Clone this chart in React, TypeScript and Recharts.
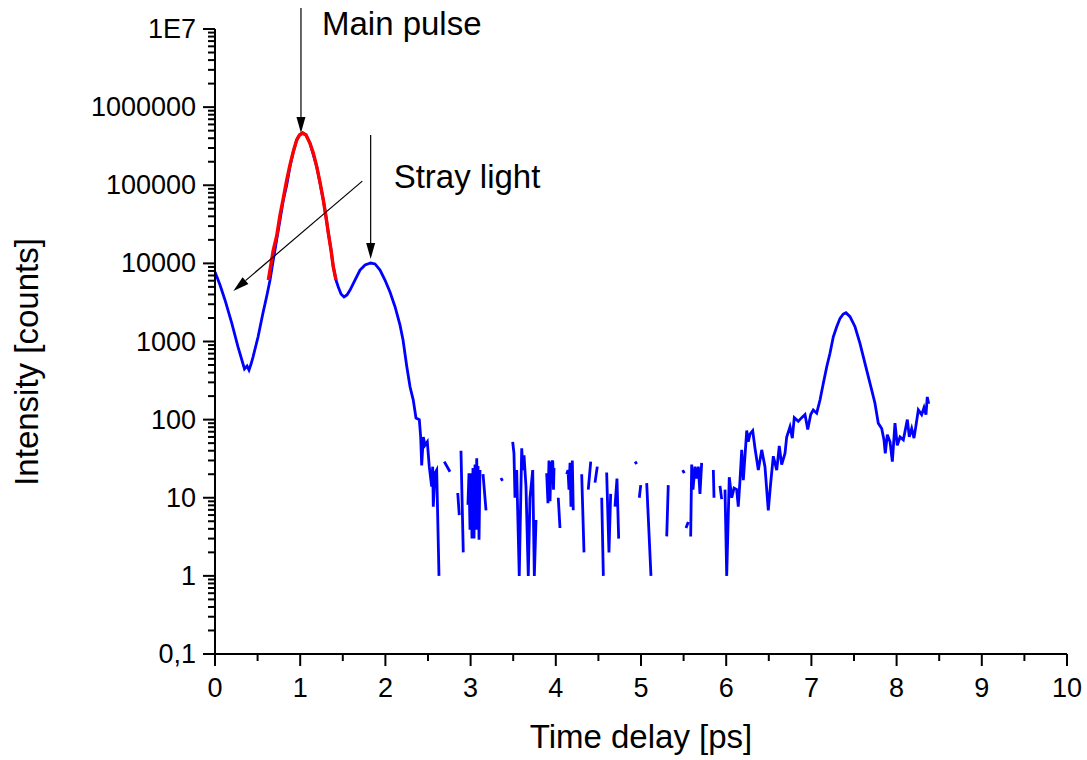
import { LineChart, Line, XAxis, YAxis, ReferenceLine } from 'recharts';

const FONT = '"Liberation Sans", Arial, Helvetica, sans-serif';

// x axis: time delay [ps], majors every 1, minors every 0.5
const xTicks = [0, 0.5, 1, 1.5, 2, 2.5, 3, 3.5, 4, 4.5, 5, 5.5, 6, 6.5, 7, 7.5, 8, 8.5, 9, 9.5, 10];

// y axis: log decades and their labels
const yDecades = [0.1, 1, 10, 100, 1000, 10000, 100000, 1000000, 10000000];
const yDecadeLabels = ['0,1', '1', '10', '100', '1000', '10000', '100000', '1000000', '1E7'];
const yMinorSteps = [2, 3, 4, 5, 6, 7, 8, 9];

// measured trace (blue); null = no counts (gap in the log plot)
const blueT = [
  0, 0.059, 0.117, 0.196, 0.27, 0.329, 0.346, 0.376, 0.399, 0.423,
  0.446, 0.505, 0.563, 0.61, 0.646, 0.684, 0.724, 0.763, 0.802, 0.842,
  0.88, 0.919, 0.959, 0.992, 1.029, 1.068, 1.115, 1.154, 1.194, 1.232,
  1.271, 1.303, 1.33, 1.362, 1.388, 1.42, 1.447, 1.479, 1.514, 1.549,
  1.585, 1.643, 1.702, 1.761, 1.827, 1.878, 1.937, 1.995, 2.054, 2.113,
  2.171, 2.207, 2.25, 2.289, 2.327, 2.359, 2.398, 2.414, 2.426, 2.445,
  2.465, 2.492, 2.515, 2.543, 2.555, 2.562, 2.582, 2.602, 2.629, 2.64,
  2.691, 2.758, 2.77,
  2.849, 2.867, 2.875,
  2.887, 2.914, 2.93,
  2.969, 2.981, 2.993, 3.005, 3.016, 3.028, 3.04, 3.052, 3.063, 3.072, 3.081, 3.087, 3.099, 3.11, 3.12,
  3.146, 3.181, 3.19,
  3.357, 3.374, 3.38,
  3.494, 3.509, 3.521, 3.541, 3.571, 3.6, 3.615, 3.627, 3.65, 3.677, 3.697, 3.729, 3.748, 3.768, 3.78,
  3.893, 3.908, 3.92, 3.932, 3.944, 3.964, 3.973, 3.979, 3.99,
  4.029, 4.049, 4.06,
  4.128, 4.143, 4.155, 4.167, 4.178, 4.194, 4.205, 4.22,
  4.304, 4.331, 4.34,
  4.381, 4.41, 4.42,
  4.46, 4.487, 4.5,
  4.539, 4.558, 4.57,
  4.597, 4.624, 4.644, 4.66,
  4.695, 4.718, 4.738, 4.75,
  4.93, 4.95, 4.96,
  4.98, 4.997, 5.01,
  5.067, 5.117, 5.13,
  5.302, 5.32, 5.33,
  5.489, 5.508, 5.515,
  5.528, 5.555, 5.565,
  5.583, 5.595, 5.61, 5.634, 5.654, 5.673, 5.692, 5.712, 5.72,
  5.849, 5.857, 5.865,
  5.927, 5.947, 5.955,
  5.986, 6.006, 6.036, 6.065, 6.092, 6.123, 6.142, 6.162, 6.182, 6.201,
  6.241, 6.259, 6.279, 6.311, 6.338, 6.377, 6.417, 6.455, 6.494, 6.522,
  6.553, 6.593, 6.623, 6.651, 6.69, 6.71, 6.749, 6.776, 6.799, 6.846,
  6.886, 6.925, 6.957, 6.992, 7.022, 7.062, 7.101, 7.14, 7.18, 7.218,
  7.257, 7.297, 7.336, 7.374, 7.406, 7.453, 7.512, 7.57, 7.609, 7.668,
  7.708, 7.746, 7.785, 7.825, 7.852, 7.867, 7.891, 7.923, 7.95, 7.981,
  8.008, 8.04, 8.079, 8.126, 8.149, 8.177, 8.204, 8.228, 8.255, 8.294,
  8.322, 8.345, 8.36, 8.377,
];

const blueV: (number | null)[] = [
  7760, 5290, 3400, 1730, 851, 515, 445, 486, 431, 515,
  631, 1140, 2320, 3940, 6120, 11000, 20000, 35900, 64700, 100700,
  173000, 267000, 380000, 440000, 467000, 440000, 344000, 244000, 173000, 107000,
  65000, 39200, 24500, 14800, 9090, 6120, 4990, 4050, 3720, 3940,
  4560, 6120, 8220, 9530, 10100, 9830, 8220, 6120, 4300, 2790,
  1630, 1045, 486, 263, 178, 105, 100, 60, 26, 60,
  47, 52, 25, 13.9, 25, 7.7, 20.6, 22.6, 1, null,
  29, 21.5, null,
  11.5, 6, null,
  40, 2, null,
  8.1, 20.6, 3.9, 20.6, 3, 24, 3, 26.6, 3.9, 32, 3.9, 25.5, 2.9, 22.6, null,
  20, 6.9, null,
  17.9, 16.4, null,
  52, 37, 10, 22.6, 1, 43, 22.6, 35, 14, 1, 10, 22.6, 1, 5.2, null,
  20.6, 8.5, 30, 9, 26.6, 30, 12.7, 24, null,
  10, 4.1, null,
  20, 22.6, 12.7, 28, 7.7, 30, 6.9, null,
  20, 2, null,
  12.7, 29, null,
  15.6, 25, null,
  10, 1, null,
  21, 2, 11.2, null,
  7.7, 17.6, 3, null,
  29, 27, null,
  10, 14.5, null,
  15.4, 1, null,
  3.2, 14.5, null,
  22.6, 20.6, null,
  4.1, 4.9, null,
  3.2, 26.6, 12.7, 25, 17.6, 25, 11.2, 28, null,
  22.6, 10, null,
  14.2, 9.6, null,
  12.7, 1, 18.3, 10, 13.3, 12.7, 7.7, 16.8, 41, 16.8,
  72.5, 52, 65, 72, 43, 22.6, 41, 25, 6.9, 15.4,
  34, 22.6, 46, 26.6, 37, 60, 81, 58, 106, 95,
  106, 116, 75, 116, 133, 121, 178, 292, 476, 706,
  1150, 1545, 1980, 2250, 2340, 2080, 1545, 948, 640, 355,
  239, 162, 90, 77, 55, 37, 64, 52, 29, 90,
  47, 60, 55, 100, 60, 77, 58, 85, 133, 116,
  143, 116, 195, 160,
];

// gaussian fit of the main pulse (red)
const redT = [0.626, 0.684, 0.724, 0.763, 0.802, 0.842, 0.88, 0.919, 0.959, 0.992, 1.029, 1.068, 1.115, 1.154, 1.194, 1.232, 1.271, 1.303, 1.33, 1.362, 1.388, 1.42];
const redV = [6120, 14800, 22400, 41600, 68700, 117000, 182000, 270000, 380000, 440000, 467000, 440000, 344000, 259000, 173000, 110000, 65000, 39200, 24500, 14800, 9090, 6120];

const blueData = blueT.map((t, i) => ({ t, v: blueV[i] }));
const redData = redT.map((t, i) => ({ t, v: redV[i] }));

const yTicks: number[] = [];
yDecades.forEach((d, i) => {
  yTicks.push(d);
  if (i < yDecades.length - 1) yMinorSteps.forEach((m) => yTicks.push(d * m));
});

function decadeIndex(v: number) {
  return yDecades.findIndex((d) => Math.abs(d - v) / d < 1e-6);
}

function YTick(props: any) {
  const { x, y, payload } = props;
  const idx = decadeIndex(payload.value);
  const major = idx >= 0;
  return (
    <g>
      <line x1={x - (major ? 12 : 7)} x2={x} y1={y} y2={y} stroke="#000" strokeWidth={2} />
      {major && (
        <text x={x - 19} y={y} textAnchor="end" dominantBaseline="central" fontSize={27} fontFamily={FONT} fill="#000">
          {yDecadeLabels[idx]}
        </text>
      )}
    </g>
  );
}

function XTick(props: any) {
  const { x, y, payload } = props;
  const major = Number.isInteger(payload.value);
  return (
    <g>
      <line x1={x} x2={x} y1={y} y2={y + (major ? 12 : 7)} stroke="#000" strokeWidth={2} />
      {major && (
        <text x={x} y={y + 43} textAnchor="middle" fontSize={27} fontFamily={FONT} fill="#000">
          {payload.value}
        </text>
      )}
    </g>
  );
}

function arrow(text?: string, dx = 0, dy = 0) {
  return (p: any) => {
    const { x1, y1, x2, y2 } = p;
    const ang = Math.atan2(y2 - y1, x2 - x1);
    const L = 16;
    const W = 4.5;
    const bx = x2 - L * Math.cos(ang);
    const by = y2 - L * Math.sin(ang);
    const px = -Math.sin(ang) * W;
    const py = Math.cos(ang) * W;
    return (
      <g>
        <line x1={x1} y1={y1} x2={bx} y2={by} stroke="#000" strokeWidth={1.2} />
        <polygon points={`${x2},${y2} ${bx + px},${by + py} ${bx - px},${by - py}`} fill="#000" />
        {text && (
          <text x={x1 + dx} y={y1 + dy} fontSize={33} fontFamily={FONT} fill="#000">
            {text}
          </text>
        )}
      </g>
    );
  };
}

export default function App() {
  return (
    <div style={{ position: 'absolute', left: 0, top: 0, width: 1087, height: 760, background: '#fff' }}>
      <LineChart width={1087} height={760} margin={{ top: 29, right: 20, bottom: 0, left: 0 }}>
        <XAxis
          type="number"
          dataKey="t"
          domain={[0, 10]}
          ticks={xTicks}
          interval={0}
          allowDataOverflow
          height={106}
          tickSize={0}
          tickMargin={0}
          tickLine={false}
          tick={<XTick />}
          axisLine={{ stroke: '#000', strokeWidth: 2 }}
        />
        <YAxis
          type="number"
          dataKey="v"
          scale="log"
          domain={[0.1, 10000000]}
          ticks={yTicks}
          interval={0}
          allowDataOverflow
          width={215}
          tickSize={0}
          tickMargin={0}
          tickLine={false}
          tick={<YTick />}
          axisLine={{ stroke: '#000', strokeWidth: 2 }}
        />
        <Line data={blueData} dataKey="v" type="linear" stroke="#0000ff" strokeWidth={2.8} dot={false} connectNulls={false} isAnimationActive={false} />
        <Line data={redData} dataKey="v" type="linear" stroke="#ff0000" strokeWidth={3.4} dot={false} isAnimationActive={false} />
        <ReferenceLine
          segment={[{ x: 1.009, y: 18570000 }, { x: 1.009, y: 467000 }]}
          ifOverflow="visible"
          shape={arrow('Main pulse', 21, 27)}
        />
        <ReferenceLine
          segment={[{ x: 1.827, y: 440000 }, { x: 1.827, y: 11400 }]}
          ifOverflow="visible"
          shape={arrow('Stray light', 23, 53)}
        />
        <ReferenceLine
          segment={[{ x: 1.729, y: 113000 }, { x: 0.215, y: 4430 }]}
          ifOverflow="visible"
          shape={arrow()}
        />
        <text x={641} y={748} textAnchor="middle" fontSize={33} fontFamily={FONT} fill="#000">
          Time delay [ps]
        </text>
        <text x={38} y={362} textAnchor="middle" fontSize={33} fontFamily={FONT} fill="#000" transform="rotate(-90, 38, 362)">
          Intensity [counts]
        </text>
      </LineChart>
    </div>
  );
}
